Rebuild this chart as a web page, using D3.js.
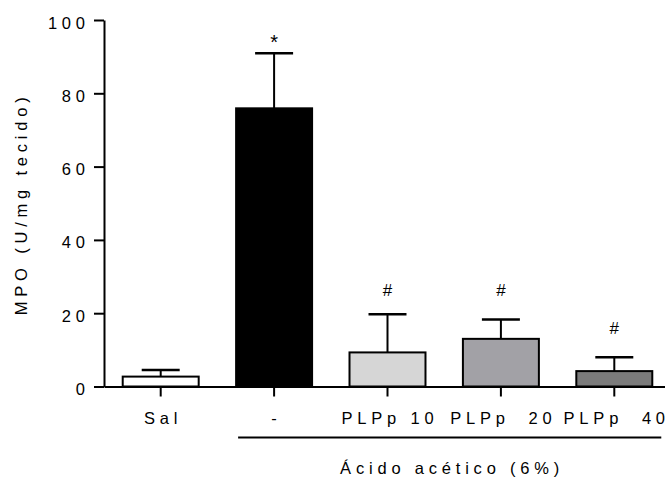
<!DOCTYPE html>
<html><head><meta charset="utf-8">
<script src="https://cdn.jsdelivr.net/npm/d3@7"></script>
<style>
body{margin:0;background:#fff}
text{font-family:Arial,"Liberation Sans",sans-serif;fill:#000}
</style>
</head><body>
<svg id="c" width="665" height="480"></svg>
<script>
const categories = ["Sal", "-", "PLPp 10", "PLPp  20", "PLPp  40"];
const means = [2.7, 75.9, 9.3, 13.0, 4.2];
const sems = [1.8, 15.0, 10.4, 5.3, 3.8];
const fills = ["#ffffff", "#000000", "#d6d6d6", "#a2a1a6", "#7b7b7b"];
const marks = ["", "*", "#", "#", "#"];
const markLevels = [null, 92.0, 24.8, 24.8, 14.2];
const yTicks = [0, 20, 40, 60, 80, 100];
const yLabel = "MPO (U/mg tecido)";
const groupLabel = "Ácido acético (6%)";
const groupMembers = ["-", "PLPp 10", "PLPp  20", "PLPp  40"];

const LS = 4.8, FS = 16.5;
const svg = d3.select("#c");
const x0 = 104, yBase = 386.5, yTop = 20;
const y = d3.scaleLinear().domain([0, 100]).range([yBase, yTop]);
const x = d3.scaleBand().domain(categories).range([x0, 671]).paddingInner(0.33).paddingOuter(0.165);
const bw = x.bandwidth();

const data = categories.map((c, i) => ({c, m: means[i], s: sems[i], f: fills[i], mk: marks[i], ml: markLevels[i]}));

// error bars (behind bars)
const eb = svg.append("g").attr("stroke", "#000").attr("stroke-width", 2);
eb.selectAll("line.stem").data(data).join("line")
  .attr("x1", d => x(d.c) + bw / 2).attr("x2", d => x(d.c) + bw / 2)
  .attr("y1", d => y(d.m)).attr("y2", d => y(d.m + d.s));
eb.selectAll("line.cap").data(data).join("line")
  .attr("stroke-width", 2.5)
  .attr("x1", d => x(d.c) + bw / 2 - bw / 4).attr("x2", d => x(d.c) + bw / 2 + bw / 4)
  .attr("y1", d => y(d.m + d.s)).attr("y2", d => y(d.m + d.s));

// bars
svg.append("g").selectAll("rect").data(data).join("rect")
  .attr("x", d => x(d.c)).attr("width", bw)
  .attr("y", d => y(d.m)).attr("height", d => y(0) - y(d.m))
  .attr("fill", d => d.f).attr("stroke", "#000").attr("stroke-width", 2);

// significance marks
svg.append("g").selectAll("text").data(data.filter(d => d.mk)).join("text")
  .attr("x", d => x(d.c) + bw / 2).attr("y", d => y(d.ml))
  .attr("text-anchor", "middle").attr("font-size", d => d.mk === "*" ? 20 : 17).text(d => d.mk);

// y axis
const ya = svg.append("g").attr("transform", `translate(${x0},0)`)
  .call(d3.axisLeft(y).tickValues(yTicks).tickSize(10).tickPadding(9).tickSizeOuter(0));
ya.select(".domain").attr("stroke-width", 2);
ya.selectAll(".tick line").attr("stroke-width", 2);
ya.selectAll(".tick text").attr("font-size", FS).attr("letter-spacing", LS)
  .attr("dy", null).attr("y", 8).attr("dx", LS).attr("font-family", null);

// x axis
const xa = svg.append("g").attr("transform", `translate(0,${yBase})`)
  .call(d3.axisBottom(x).tickSize(10).tickPadding(17).tickSizeOuter(0));
xa.select(".domain").attr("stroke-width", 2);
xa.selectAll(".tick line").attr("stroke-width", 2);
xa.selectAll(".tick text").attr("font-size", FS).attr("letter-spacing", LS)
  .attr("dy", null).attr("y", 37.5)
  .attr("dx", LS / 2).attr("font-family", null).style("white-space", "pre");
svg.selectAll(".domain, .tick line").attr("stroke", "#000");

// group line + label
const gx1 = x(groupMembers[0]) + 2, gx2 = x(groupMembers[groupMembers.length - 1]) + bw + 9;
svg.append("line").attr("x1", gx1).attr("x2", gx2).attr("y1", 437.5).attr("y2", 437.5)
  .attr("stroke", "#000").attr("stroke-width", 2);
svg.append("text").attr("x", (gx1 + gx2) / 2 + LS / 2).attr("y", 474)
  .attr("text-anchor", "middle").attr("font-size", FS).attr("letter-spacing", LS).text(groupLabel);

// y label
svg.append("text").attr("transform", `translate(27,${(yBase + yTop) / 2 + 3}) rotate(-90)`)
  .attr("text-anchor", "middle").attr("font-size", FS).attr("letter-spacing", LS).attr("dx", LS / 2).text(yLabel);
</script>
</body></html>
